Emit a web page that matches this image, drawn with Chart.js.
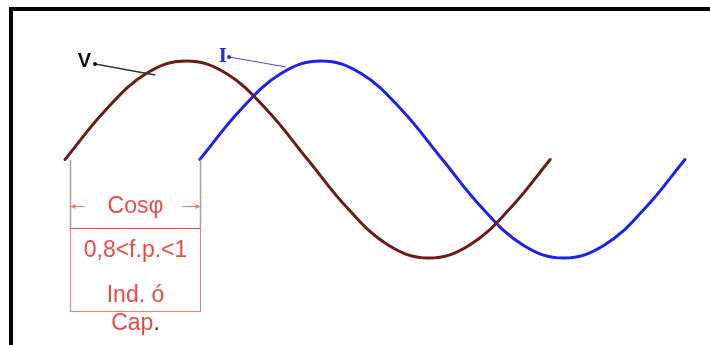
<!DOCTYPE html>
<html>
<head>
<meta charset="utf-8">
<script src="https://cdn.jsdelivr.net/npm/chart.js@4/dist/chart.umd.min.js"></script>
<style>
    html, body { margin: 0; padding: 0; background: #ffffff; }
    canvas { display: block; }
</style>
</head>
<body>
<canvas id="waves" width="710" height="345"></canvas>
<script>
// phase angles (degrees) and values
const voltageAngles = [0, 30, 60, 90, 120, 150, 180, 210, 240, 270, 300, 330, 360];
const voltageValues = [0, 0.5, 0.87, 1, 0.87, 0.5, 0, -0.5, -0.87, -1, -0.87, -0.5, 0];
const currentAngles = [100, 130, 160, 190, 220, 250, 280, 310, 340, 370, 400, 430, 460];
const currentValues = [0, 0.5, 0.87, 1, 0.87, 0.5, 0, -0.5, -0.87, -1, -0.87, -0.5, 0];

const boxLines = ['0,8<f.p.<1', 'Ind. ó'];

const toPoints = (xs, ys) => xs.map((x, i) => ({ x, y: ys[i] }));

const red = '#ee4a45';

const decorations = {
    id: 'decorations',
    beforeDraw(chart) {
        const { ctx } = chart;
        ctx.save();
        ctx.fillStyle = '#ffffff';
        ctx.fillRect(0, 0, chart.width, chart.height);
        // frame, top and left only
        ctx.fillStyle = '#000000';
        ctx.fillRect(9, 7, chart.width, 4);
        ctx.fillRect(9, 7, 4, chart.height);
        ctx.restore();
    },
    afterDraw(chart) {
        const { ctx } = chart;
        const x = chart.scales.x;
        const y = chart.scales.y;
        const left = Math.round(x.getPixelForValue(0)) + 5.5;
        const right = Math.round(x.getPixelForValue(100)) + 0.5;
        const mid = y.getPixelForValue(0);
        const boxTop = 228.5;
        const boxBottom = 311.5;
        const cx = (left + right) / 2;

        ctx.save();
        // grey drop lines from the zero crossings
        ctx.strokeStyle = '#a0a0a0';
        ctx.lineWidth = 1.5;
        ctx.beginPath();
        ctx.moveTo(left, mid);
        ctx.lineTo(left, boxTop);
        ctx.moveTo(right, mid);
        ctx.lineTo(right, boxTop);
        ctx.stroke();

        // red box
        ctx.strokeStyle = '#f08080';
        ctx.lineWidth = 1;
        ctx.strokeRect(left, boxTop, right - left, boxBottom - boxTop);
        ctx.strokeStyle = red;
        ctx.beginPath();
        ctx.moveTo(left, boxTop);
        ctx.lineTo(right, boxTop);
        ctx.stroke();

        // arrows either side of Cosφ
        const ay = 206.5;
        ctx.strokeStyle = '#f07a70';
        ctx.lineWidth = 1;
        ctx.beginPath();
        ctx.moveTo(left, ay);
        ctx.lineTo(left + 14, ay);
        ctx.moveTo(right - 18, ay);
        ctx.lineTo(right, ay);
        ctx.stroke();
        ctx.fillStyle = '#f07a70';
        ctx.beginPath();
        ctx.moveTo(left, ay);
        ctx.lineTo(left + 5, ay - 2.5);
        ctx.lineTo(left + 5, ay + 2.5);
        ctx.closePath();
        ctx.moveTo(right, ay);
        ctx.lineTo(right - 5, ay - 2.5);
        ctx.lineTo(right - 5, ay + 2.5);
        ctx.closePath();
        ctx.fill();

        // box texts
        ctx.font = '23px "Liberation Sans", Arial, sans-serif';
        ctx.textAlign = 'center';
        ctx.textBaseline = 'alphabetic';
        ctx.fillStyle = red;
        ctx.fillText('Cosφ', cx, 213);
        ctx.fillText(boxLines[0], cx, 257);
        ctx.fillText(boxLines[1], cx, 302);
        const capW = ctx.measureText('Cap').width;
        const dotW = ctx.measureText('.').width;
        ctx.textAlign = 'left';
        ctx.fillText('Cap', cx - (capW + dotW) / 2, 330);
        ctx.fillStyle = '#333333';
        ctx.fillText('.', cx - (capW + dotW) / 2 + capW, 330);

        // V label with leader
        ctx.fillStyle = '#111111';
        ctx.font = 'bold 20px "Liberation Sans", Arial, sans-serif';
        ctx.textAlign = 'right';
        ctx.textBaseline = 'alphabetic';
        ctx.fillText('V', 91, 67);
        ctx.strokeStyle = '#333333';
        ctx.lineWidth = 1.5;
        ctx.beginPath();
        ctx.moveTo(95, 64);
        ctx.lineTo(x.getPixelForValue(67), 75);
        ctx.stroke();
        ctx.beginPath();
        ctx.arc(95, 64, 2, 0, Math.PI * 2);
        ctx.fill();

        // I label with leader
        ctx.fillStyle = '#2a2ae8';
        ctx.font = 'bold 21px "Liberation Serif", serif';
        ctx.fillText('I', 227, 62);
        ctx.strokeStyle = '#4a4ae8';
        ctx.lineWidth = 1;
        ctx.beginPath();
        ctx.moveTo(229, 57);
        ctx.lineTo(x.getPixelForValue(164), 67);
        ctx.stroke();
        ctx.beginPath();
        ctx.arc(229, 57, 2, 0, Math.PI * 2);
        ctx.fill();
        ctx.restore();
    },
};

new Chart(document.getElementById('waves'), {
    type: 'line',
    data: {
        datasets: [
            {
                label: 'V',
                data: toPoints(voltageAngles, voltageValues),
                borderColor: '#6e1a1a',
                borderWidth: 3,
                tension: 0.4,
                pointRadius: 0,
                borderCapStyle: 'round',
            },
            {
                label: 'I',
                data: toPoints(currentAngles, currentValues),
                borderColor: '#1f1ff2',
                borderWidth: 3,
                tension: 0.4,
                pointRadius: 0,
                borderCapStyle: 'round',
            },
        ],
    },
    options: {
        responsive: false,
        animation: false,
        layout: {
            padding: { left: 65, right: 25, top: 61, bottom: 87 },
        },
        plugins: {
            legend: { display: false },
            tooltip: { enabled: false },
        },
        scales: {
            x: { type: 'linear', min: 0, max: 460, display: false },
            y: { min: -1, max: 1, display: false },
        },
        clip: false,
    },
    plugins: [decorations],
});
</script>
</body>
</html>
